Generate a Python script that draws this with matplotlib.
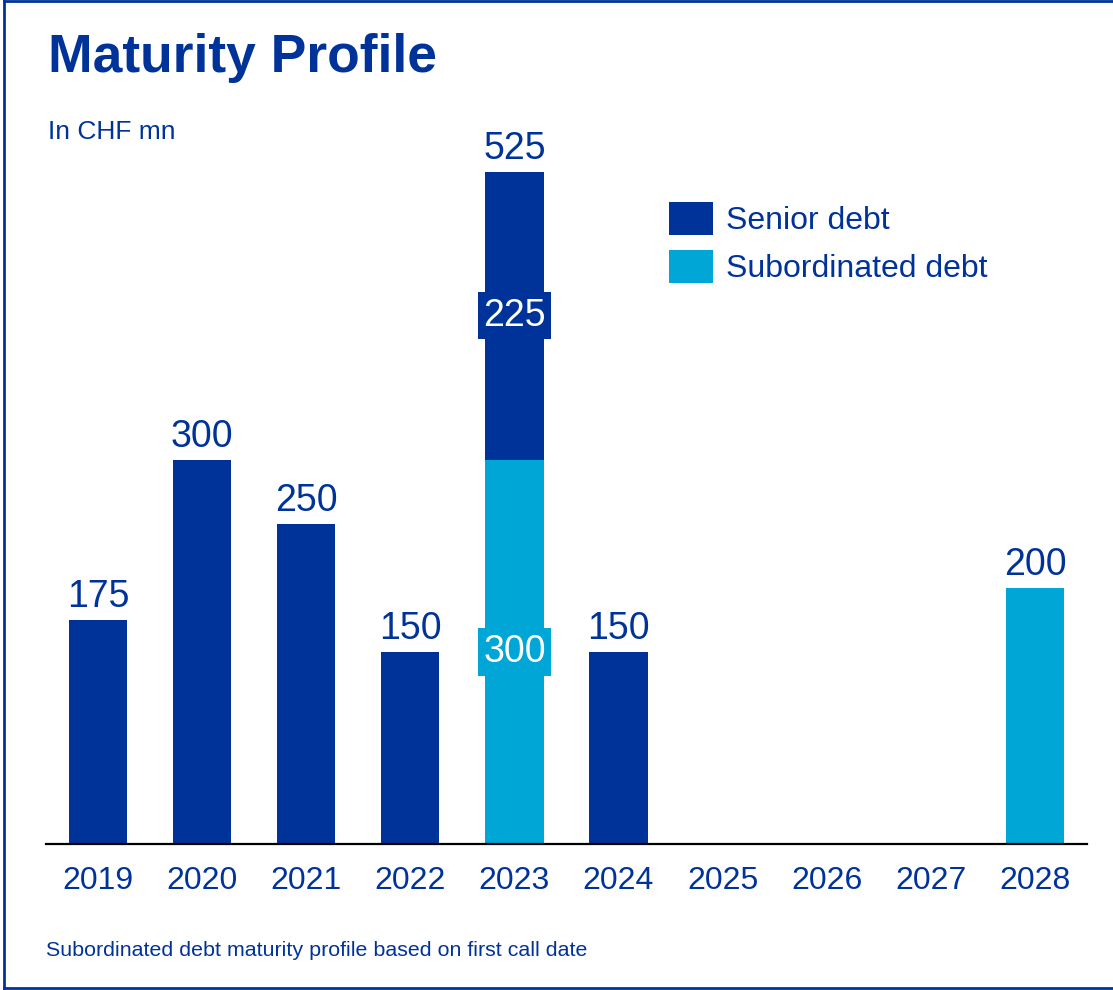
import numpy as np
import matplotlib.pyplot as plt
from matplotlib.lines import Line2D

plt.rcParams['font.family'] = ['Liberation Sans', 'DejaVu Sans']

years = ['2019', '2020', '2021', '2022', '2023', '2024', '2025', '2026', '2027', '2028']
senior = np.array([175, 300, 250, 150, 225, 150, 0, 0, 0, 0])
subord = np.array([0, 0, 0, 0, 300, 0, 0, 0, 0, 200])

dark = '#003399'
cyan = '#00A6D6'

fig = plt.figure(figsize=(11.13, 9.90), dpi=100)
ax = fig.add_axes([46/1113, 146/990, (1087-46)/1113, 717/990])

x = np.arange(len(years))
w = 0.56
ax.bar(x, subord, w, color=cyan, label='Subordinated debt')
ax.bar(x, senior, w, bottom=subord, color=dark, label='Senior debt')

total = senior + subord
for i in range(len(years)):
    if total[i] > 0:
        ax.text(x[i], total[i] + 3.5, str(total[i]), ha='center', va='bottom',
                fontsize=27, color=dark)
    # segment labels only where the bar is stacked
    if senior[i] > 0 and subord[i] > 0:
        ax.text(x[i], subord[i] / 2, str(subord[i]), ha='center', va='center',
                fontsize=27, color='white',
                bbox=dict(boxstyle='square,pad=0.15', fc=cyan, ec='none'))
        ax.text(x[i], subord[i] + senior[i] / 2, str(senior[i]), ha='center', va='center',
                fontsize=27, color='white',
                bbox=dict(boxstyle='square,pad=0.15', fc=dark, ec='none'))

ax.set_xlim(-0.5, len(years) - 0.5)
ax.set_ylim(0, 560)
ax.set_xticks(x)
ax.set_xticklabels(years, fontsize=23, color=dark)
ax.tick_params(axis='x', length=0, pad=16)
ax.set_yticks([])
for s in ['top', 'right', 'left']:
    ax.spines[s].set_visible(False)
ax.spines['bottom'].set_color('black')
ax.spines['bottom'].set_linewidth(1.6)

h, l = ax.get_legend_handles_labels()
fig.legend(h[::-1], l[::-1], loc='upper left', bbox_to_anchor=(669/1113, 1 - 202/990),
           frameon=False, fontsize=23, labelcolor=dark, borderpad=0, borderaxespad=0,
           handlelength=1.38, handleheight=1.21, handletextpad=0.4, labelspacing=0.42)

fig.text(48/1113, 1 - 72/990, 'Maturity Profile', fontsize=38.4, fontweight='bold',
         color=dark, va='baseline', ha='left')
fig.text(48/1113, 1 - 139/990, 'In CHF mn', fontsize=19, color=dark, va='baseline', ha='left')
fig.text(46/1113, 1 - 951/990, 'Subordinated debt maturity profile based on first call date',
         fontsize=15.4, color=dark, va='center', ha='left')

# frame lines (left, top, bottom)
fig.add_artist(Line2D([4/1113, 4/1113], [2/990, 1 - 1/990], color=dark, lw=2))
fig.add_artist(Line2D([4/1113, 1], [1 - 1/990, 1 - 1/990], color=dark, lw=2))
fig.add_artist(Line2D([4/1113, 1], [2/990, 2/990], color=dark, lw=2))

fig.savefig('out.png', dpi=100)
